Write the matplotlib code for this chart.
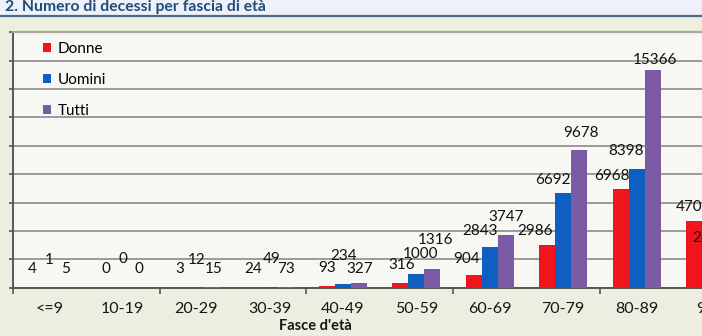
import matplotlib.pyplot as plt
import numpy as np
from matplotlib.lines import Line2D
from matplotlib.patches import Rectangle

plt.rcParams['font.family'] = ['Lato', 'DejaVu Sans']

# deaths by age band (90+ is cut off at the right edge of the picture)
fasce = ["<=9", "10-19", "20-29", "30-39", "40-49", "50-59",
         "60-69", "70-79", "80-89", "90+"]
donne = [4, 0, 3, 24, 93, 316, 904, 2986, 6968, 4705]
uomini = [1, 0, 12, 49, 234, 1000, 2843, 6692, 8398, 2440]
tutti = [5, 0, 15, 73, 327, 1316, 3747, 9678, 15366, 7145]

# hand placed label offsets in pixels (dx, dy) from the bar top
off_donne = [(-1, 19), (-1, 19), (0, 19), (0, 18), (0, 18), (1, 18),
             (-7, 16), (-12, 14), (-9, 13), (0, 14)]
off_uomini = [(0, 28), (0, 29), (0, 28), (2, 28), (1, 28), (4, 20),
              (-10, 16), (-10, 13), (-11, 18), (0, 15)]
off_tutti = [(0, 19), (0, 19), (1, 18), (0, 18), (1, 14), (3, 29),
             (0, 18), (2, 17), (2, 10), (0, 15)]

W, H = 702, 336
fig = plt.figure(figsize=(W / 100, H / 100), dpi=100, facecolor="#eceedf")

# title band
fig.patches.append(Rectangle((0, 1 - 16 / H), 1, 16 / H, transform=fig.transFigure,
                             facecolor="#eef1f9", edgecolor="none", zorder=0))
fig.lines.append(Line2D([0, 1], [1 - 15.5 / H] * 2, transform=fig.transFigure,
                        color="#4d6985", lw=1.6))
fig.text(5 / W, 1 - 7.5 / H, "2. Numero di decessi per fascia di età",
         fontsize=11.3, fontweight="bold", color="#1f4d7a", ha="left", va="center")

left, right, top, bottom = 12.7, 746.7, 32.3, 287.7
ax = fig.add_axes([left / W, (H - bottom) / H, (right - left) / W, (bottom - top) / H])
ax.set_facecolor("#f7f7f3")

x = np.arange(len(fasce))
bw = 0.218
b1 = ax.bar(x - bw, donne, bw, color="#f0141c", label="Donne", zorder=3)
b2 = ax.bar(x, uomini, bw, color="#0f5fc2", label="Uomini", zorder=3)
b3 = ax.bar(x + bw, tutti, bw, color="#7b5ba6", label="Tutti", zorder=3)

for xs, vals, offs in [(x - bw, donne, off_donne), (x, uomini, off_uomini),
                       (x + bw, tutti, off_tutti)]:
    for xi, v, (dx, dy) in zip(xs, vals, offs):
        ax.annotate(str(v), xy=(xi, v), xytext=(dx, dy), textcoords="offset pixels",
                    ha="center", va="center", fontsize=11, color="#111111",
                    annotation_clip=False, zorder=4)

ax.set_xlim(-0.5, len(fasce) - 0.5)
ax.set_ylim(0, 18000)
ax.set_yticks(np.arange(0, 18001, 2000))
ax.yaxis.grid(True, color="#8c8c8c", lw=1.2, zorder=1)
ax.tick_params(axis="y", length=3, width=1.2, color="#555555", labelleft=False)

ax.set_xticks(x, fasce)
ax.set_xticks(np.arange(-0.5, len(fasce), 2), minor=True)
ax.tick_params(axis="x", which="major", length=0, pad=10.5, labelsize=11.5,
               labelcolor="#161616")
ax.tick_params(axis="x", which="minor", length=4, width=1.2, color="#555555")

for s in ["left", "bottom"]:
    ax.spines[s].set_color("#555555")
    ax.spines[s].set_linewidth(1.4)
ax.spines["top"].set_color("#aaa79c")
ax.spines["top"].set_linewidth(1.6)
ax.spines["right"].set_visible(False)

fig.text(315 / W, 1 - 326 / H, "Fasce d'età", fontsize=10.5, fontweight="bold",
         color="#161616", ha="center", va="center")

ax.legend(handles=[b1, b2, b3], loc="upper left", frameon=False,
          bbox_to_anchor=(43 / W, 1 - 42 / H), bbox_transform=fig.transFigure,
          fontsize=11, handlelength=0.55, handleheight=0.55, handletextpad=0.4,
          labelspacing=1.1, borderpad=0, borderaxespad=0)

fig.savefig("out.png", dpi=100, facecolor=fig.get_facecolor())
